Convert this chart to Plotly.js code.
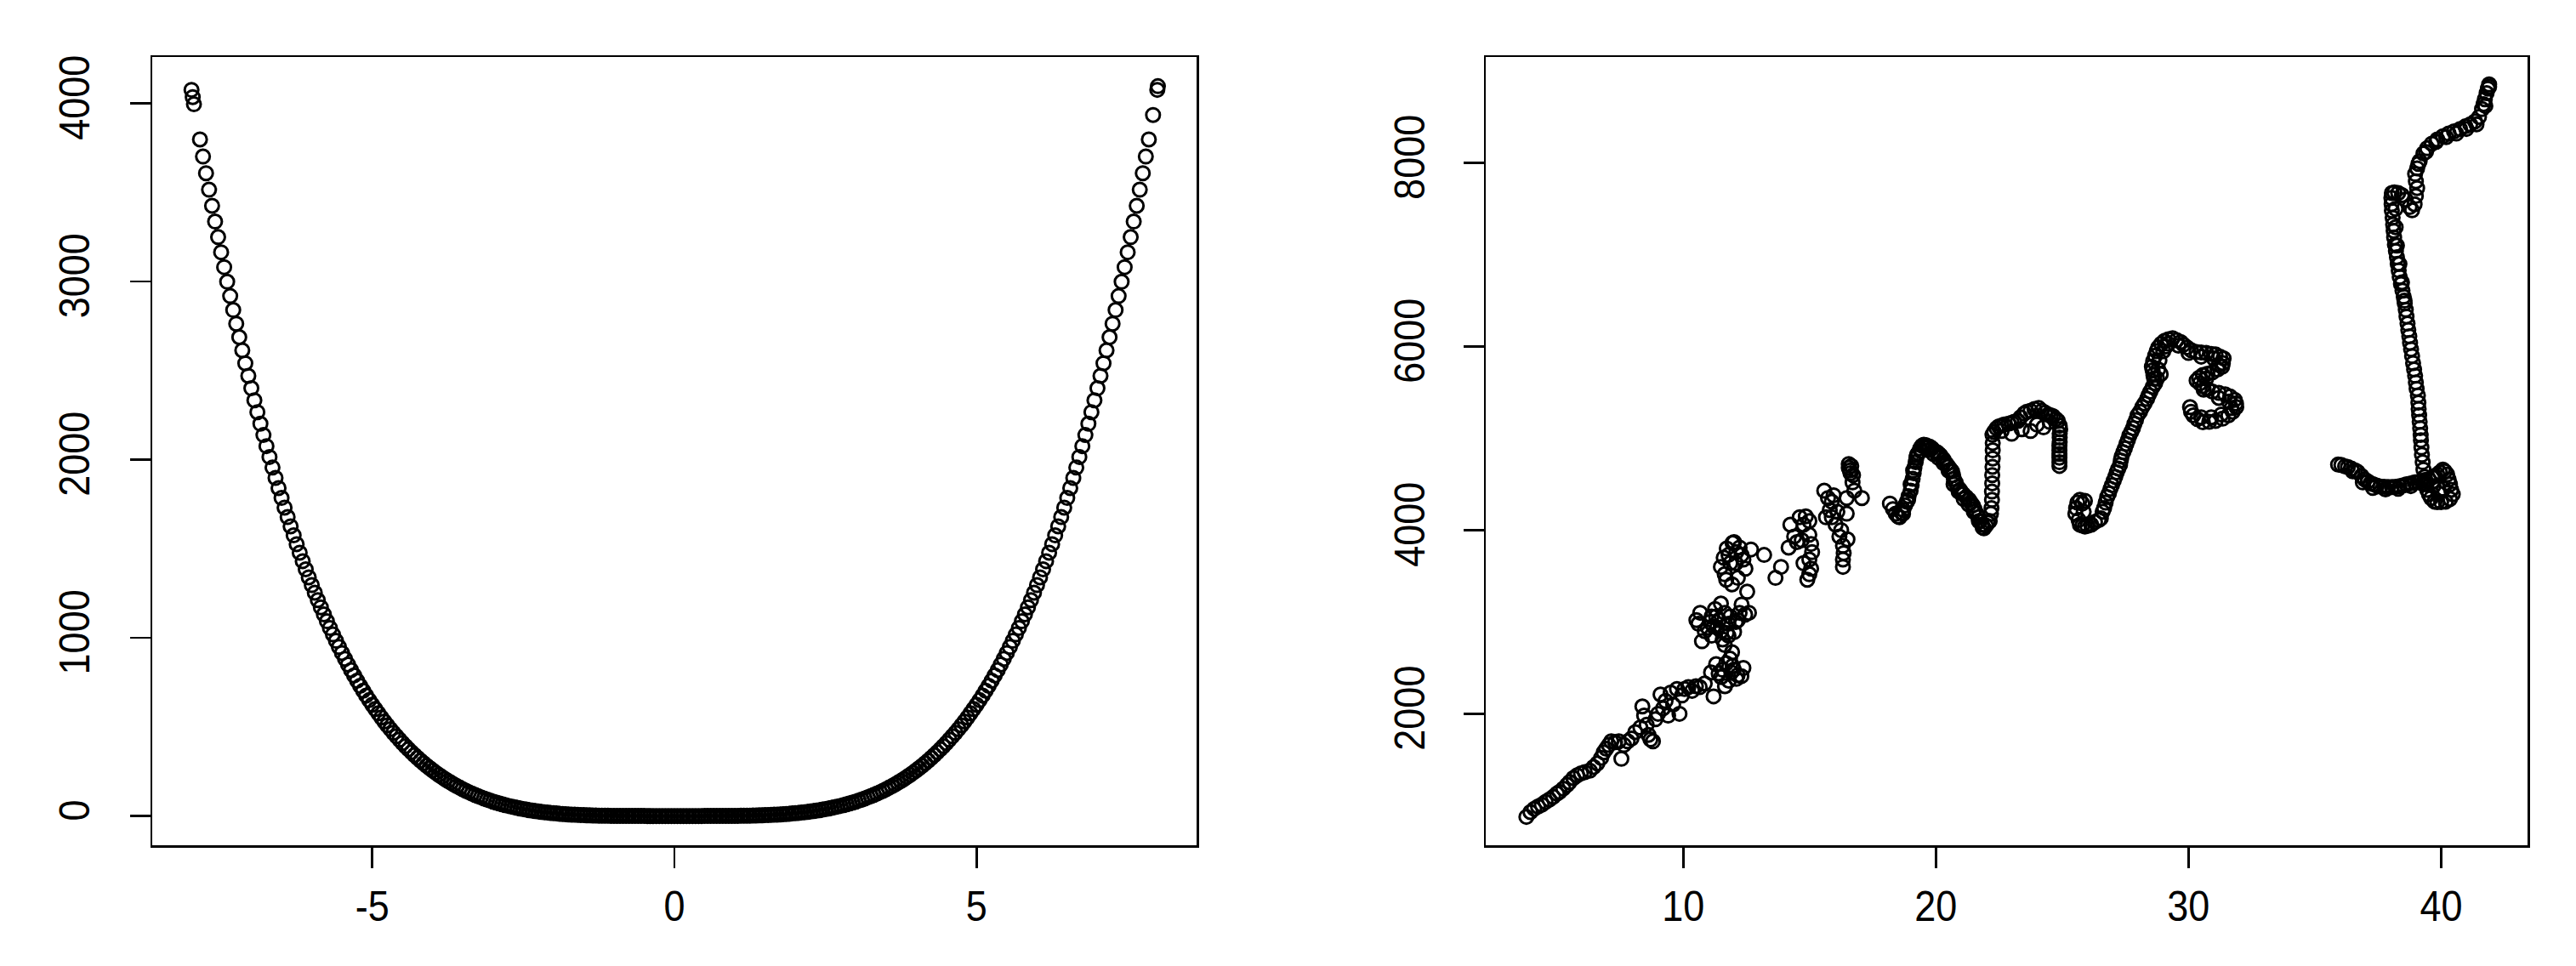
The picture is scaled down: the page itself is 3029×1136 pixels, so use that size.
<!DOCTYPE html>
<html>
<head>
<meta charset="utf-8">
<script src="https://cdn.plot.ly/plotly-3.0.1.min.js"></script>
<style>
  html, body { margin: 0; padding: 0; background: #fff; }
  #chart { width: 3029px; height: 1136px; }
</style>
</head>
<body>
<div id="chart"></div>
<script>
// ---------- Left panel: U-shaped cloud ----------
const leftXNeg = [-7.99,-7.97,-7.95,-7.85,-7.8,-7.75,-7.7,-7.65,-7.6,-7.55,-7.5,-7.45,-7.4,-7.35,-7.3,-7.25,-7.2,-7.15,-7.1,-7.05,-7.0,-6.95,-6.9,-6.85,-6.8,-6.75,-6.7,-6.65,-6.6,-6.55,-6.5,-6.45,-6.4,-6.35,-6.3,-6.25,-6.2,-6.15,-6.1,-6.05,-6.0,-5.95,-5.9,-5.85,-5.8,-5.75,-5.7,-5.65,-5.6,-5.55,-5.5,-5.45,-5.4,-5.35,-5.3,-5.25,-5.2,-5.15,-5.1,-5.05,-5.0,-4.95,-4.9,-4.85,-4.8,-4.75,-4.7,-4.65,-4.6,-4.55,-4.5,-4.45,-4.4,-4.35,-4.3,-4.25,-4.2,-4.15,-4.1,-4.05,-4.0,-3.95,-3.9,-3.85,-3.8,-3.75,-3.7,-3.65,-3.6,-3.55,-3.5,-3.45,-3.4,-3.35,-3.3,-3.25,-3.2,-3.15,-3.1,-3.05,-3.0,-2.95,-2.9,-2.85,-2.8,-2.75,-2.7,-2.65,-2.6,-2.55,-2.5,-2.45,-2.4,-2.35,-2.3,-2.25,-2.2,-2.15,-2.1,-2.05,-2.0,-1.95,-1.9,-1.85,-1.8,-1.75,-1.7,-1.65,-1.6,-1.55,-1.5,-1.45,-1.4,-1.35,-1.3,-1.25,-1.2,-1.15,-1.1,-1.05,-1.0,-0.95,-0.9,-0.85,-0.8,-0.75,-0.7,-0.65,-0.6,-0.55,-0.5,-0.45,-0.4,-0.35,-0.3,-0.25,-0.2,-0.15,-0.1,-0.05,0];
const leftYNeg = [4075.6,4034.9,3994.6,3797.3,3701.5,3607.5,3515.3,3424.9,3336.2,3249.3,3164.1,3080.5,2998.7,2918.4,2839.8,2762.8,2687.4,2613.5,2541.2,2470.3,2401,2333.1,2266.7,2201.7,2138.1,2075.9,2015.1,1955.6,1897.5,1840.6,1785.1,1730.8,1677.7,1626.0,1575.3,1525.9,1477.6,1430.5,1384.6,1339.7,1296,1253.3,1211.7,1171.2,1131.6,1093.1,1055.6,1019.0,983.4,948.8,915.1,882.2,850.3,819.2,789.0,759.7,731.2,703.4,676.5,650.4,625,600.4,576.5,553.3,530.8,509.1,488.0,467.5,447.7,428.6,410.1,392.1,374.8,358.1,341.9,326.3,311.2,296.6,282.6,269.0,256,243.4,231.3,219.7,208.5,197.8,187.4,177.5,168.0,158.8,150.1,141.7,133.6,125.9,118.6,111.6,104.9,98.5,92.4,86.5,81,75.7,70.7,66.0,61.5,57.2,53.1,49.3,45.7,42.3,39.1,36.0,33.2,30.5,28.0,25.6,23.4,21.4,19.4,17.7,16,14.5,13.0,11.7,10.5,9.4,8.4,7.4,6.6,5.8,5.1,4.4,3.8,3.3,2.9,2.4,2.1,1.7,1.5,1.2,1,0.8,0.7,0.5,0.4,0.3,0.2,0.2,0.1,0.1,0.1,0,0,0,0,0,0,0,0,0,0];
const leftXPos = [8.0,7.99,7.92,7.85,7.8,7.75,7.7,7.65,7.6,7.55,7.5,7.45,7.4,7.35,7.3,7.25,7.2,7.15,7.1,7.05,7.0,6.95,6.9,6.85,6.8,6.75,6.7,6.65,6.6,6.55,6.5,6.45,6.4,6.35,6.3,6.25,6.2,6.15,6.1,6.05,6.0,5.95,5.9,5.85,5.8,5.75,5.7,5.65,5.6,5.55,5.5,5.45,5.4,5.35,5.3,5.25,5.2,5.15,5.1,5.05,5.0,4.95,4.9,4.85,4.8,4.75,4.7,4.65,4.6,4.55,4.5,4.45,4.4,4.35,4.3,4.25,4.2,4.15,4.1,4.05,4.0,3.95,3.9,3.85,3.8,3.75,3.7,3.65,3.6,3.55,3.5,3.45,3.4,3.35,3.3,3.25,3.2,3.15,3.1,3.05,3.0,2.95,2.9,2.85,2.8,2.75,2.7,2.65,2.6,2.55,2.5,2.45,2.4,2.35,2.3,2.25,2.2,2.15,2.1,2.05,2.0,1.95,1.9,1.85,1.8,1.75,1.7,1.65,1.6,1.55,1.5,1.45,1.4,1.35,1.3,1.25,1.2,1.15,1.1,1.05,1.0,0.95,0.9,0.85,0.8,0.75,0.7,0.65,0.6,0.55,0.5,0.45,0.4,0.35,0.3,0.25,0.2,0.15,0.1,0.05];
const leftYPos = [4096,4075.6,3934.6,3797.3,3701.5,3607.5,3515.3,3424.9,3336.2,3249.3,3164.1,3080.5,2998.7,2918.4,2839.8,2762.8,2687.4,2613.5,2541.2,2470.3,2401,2333.1,2266.7,2201.7,2138.1,2075.9,2015.1,1955.6,1897.5,1840.6,1785.1,1730.8,1677.7,1626.0,1575.3,1525.9,1477.6,1430.5,1384.6,1339.7,1296,1253.3,1211.7,1171.2,1131.6,1093.1,1055.6,1019.0,983.4,948.8,915.1,882.2,850.3,819.2,789.0,759.7,731.2,703.4,676.5,650.4,625,600.4,576.5,553.3,530.8,509.1,488.0,467.5,447.7,428.6,410.1,392.1,374.8,358.1,341.9,326.3,311.2,296.6,282.6,269.0,256,243.4,231.3,219.7,208.5,197.8,187.4,177.5,168.0,158.8,150.1,141.7,133.6,125.9,118.6,111.6,104.9,98.5,92.4,86.5,81,75.7,70.7,66.0,61.5,57.2,53.1,49.3,45.7,42.3,39.1,36.0,33.2,30.5,28.0,25.6,23.4,21.4,19.4,17.7,16,14.5,13.0,11.7,10.5,9.4,8.4,7.4,6.6,5.8,5.1,4.4,3.8,3.3,2.9,2.4,2.1,1.7,1.5,1.2,1,0.8,0.7,0.5,0.4,0.3,0.2,0.2,0.1,0.1,0.1,0,0,0,0,0,0,0,0,0];

// ---------- Right panel: wandering path, by stretch ----------
const segAX = [3.79,3.95,4.1,4.25,4.4,4.55,4.7,4.85,5.0,5.1,5.25,5.4,5.5,5.65,5.8,5.95,6.1,6.3,6.45,6.6,6.75,6.85,6.95,7.05,7.15,7.3,7.45,7.55,7.65,7.8,7.95,8.1,8.3,8.38,8.45,8.55,8.62,8.7,8.8,8.9,9.0,9.1,9.2,9.3,9.4,9.5,9.6,9.75,9.85,9.95,10.05,10.2,10.35,10.5,10.65,10.85,11.2,11.1,11.3,11.4,11.55,11.65,11.8,11.9,12.0,12.15,12.3,12.38,11.7,11.85,11.5,12.1,11.95];
const segAY = [877,930,965,990,1010,1040,1065,1095,1130,1150,1185,1225,1255,1300,1330,1350,1365,1380,1420,1460,1520,1580,1620,1660,1700,1690,1700,1510,1660,1700,1730,1800,1850,2080,1980,1880,1770,1720,1700,1940,2000,2210,2060,2140,1980,2230,2100,2270,2000,2200,2270,2290,2250,2300,2290,2330,2190,2450,2540,2440,2480,2300,2360,2450,2480,2420,2410,2500,2550,2600,2400,2380,2520];

const segBX = [10.52,10.6,10.67,10.74,10.85,10.97,11.05,11.12,11.12,11.2,11.26,11.34,11.41,11.49,11.56,11.64,11.64,11.72,11.79,11.79,11.86,11.93,12.01,12.08,12.16,12.23,12.31,12.45,12.6,12.53,11.3,11.5];
const segBY = [3020,2980,3100,2790,2900,2940,3000,3060,2850,2950,3140,2940,3020,3200,2810,3100,2750,2880,2980,2850,3060,2670,2890,3000,3020,3100,3190,3080,3100,3330,3060,2900];

const segCX = [11.49,11.6,11.64,11.72,11.79,11.86,11.93,11.95,12.01,12.08,12.1,12.16,12.23,12.31,12.38,12.46,11.7,12.68,13.2,13.65,13.87];
const segCY = [3600,3700,3520,3800,3730,3640,3410,3860,3870,3640,3760,3480,3810,3730,3680,3580,3460,3790,3730,3480,3600];

const segDX = [14.17,14.24,14.39,14.5,14.61,14.69,14.76,14.76,14.85,14.91,14.99,14.99,14.99,14.99,15.06,15.06,15.1,15.58,15.65,15.73,15.8,15.88,15.88,15.95,16.03,16.1,16.18,16.25,16.32,16.32,16.32,16.35,16.47,16.47,16.55,16.55,16.6,16.62,16.65,16.7,16.72,16.77,17.07,16.5];
const segDY = [3810,4060,3930,3870,4140,3890,4060,3640,4150,3460,4100,3950,3680,3520,3850,3580,3760,4430,4140,4350,4220,4310,4140,4380,4060,4200,3930,4000,3830,3680,3600,3750,4180,4350,4720,4680,4650,4620,4700,4520,4600,4430,4350,3900];

const segEX = [18.18,18.3,18.41,18.5,18.56,18.65,18.71,18.78,18.85,18.92,19.0,19.04,19.08,19.12,19.15,19.2,19.23,19.3,19.38,19.45,19.52,19.6,19.68,19.75,19.85,19.95,20.04,20.12,20.19,20.3,20.42,20.5,20.58,20.64,20.68,20.71,20.78,20.86,20.95,21.02,21.09,21.2,21.31,21.38,21.46,21.53,21.61,21.68,21.76,21.83,21.9,21.98,22.06,22.13,22.18,22.2,22.22,22.22,22.23,22.23,22.24,22.25,22.25,22.25,18.7,18.9,19.0,19.1,19.25,19.4,19.7,19.9,20.1,20.3,20.5,20.7,20.9,21.1,21.3,21.5,21.7,21.85];
const segEY = [4290,4230,4180,4150,4140,4190,4220,4270,4310,4370,4430,4490,4560,4620,4680,4740,4790,4840,4890,4920,4930,4925,4915,4910,4890,4860,4850,4830,4810,4770,4720,4690,4660,4640,4600,4560,4520,4470,4440,4410,4390,4360,4330,4300,4270,4230,4180,4140,4100,4060,4020,4050,4080,4100,4180,4240,4330,4420,4510,4600,4690,4780,4870,4950,4180,4330,4500,4650,4820,4860,4870,4830,4790,4730,4650,4500,4420,4340,4280,4200,4100,4030];

const segFX = [22.24,22.3,22.4,22.49,22.6,22.7,22.87,23.0,23.1,23.25,23.35,23.5,23.6,23.75,23.9,24.07,24.2,24.32,24.45,24.55,24.64,24.75,24.83,24.9,24.92,24.9,24.9,24.9,24.89,24.89,24.89,24.89,24.89,24.89,22.6,23.0,23.4,23.75,24.0,24.26,24.5];
const segFY = [5040,5070,5110,5130,5140,5150,5160,5170,5180,5190,5230,5270,5290,5300,5320,5330,5300,5280,5260,5250,5240,5210,5190,5140,5100,5050,5010,4960,4920,4870,4830,4790,4740,4700,5080,5050,5100,5080,5150,5120,5180];

const segGX = [25.55,25.52,25.6,25.7,25.8,25.65,25.7,25.8,25.9,26.0,26.15,26.3,26.45,26.53,25.85,25.9,26.6,26.66,26.72,26.78,26.85,26.91,26.97,27.04,27.1,27.16,27.22,27.29,27.32,27.35,27.42,27.48,27.54,27.6,27.66,27.73,27.8,27.86,27.92,27.98,28.08,28.17,28.26,28.36,28.42,28.49,28.58,28.68,28.64,28.61,28.58,28.55,28.6,28.68,28.74,28.8,28.92,29.05,29.2,29.37,29.53,29.69,29.8,29.94,30.1,30.32,30.5,30.7,30.9,31.07,31.25,31.39,31.36,31.33,31.15,30.95,30.75,30.57,30.42,30.32,30.45,30.57,30.75,30.95,31.2,31.45,31.65,31.83,31.88,31.89,31.75,31.58,31.35,31.07,30.82,30.57,30.35,30.19,30.1,30.06,28.75,28.8,28.85,29.0,29.1,28.9,29.2,29.6,30.0,30.5,31.0,31.2,30.7,30.6,31.2,31.6,31.7,31.3,30.9,30.5];
const segGY = [4240,4180,4300,4330,4290,4110,4060,4050,4040,4045,4060,4090,4110,4130,4200,4320,4200,4240,4300,4360,4400,4450,4490,4540,4580,4630,4670,4710,4760,4800,4850,4890,4940,4980,5030,5070,5110,5160,5200,5250,5290,5340,5380,5430,5470,5510,5560,5600,5650,5690,5740,5780,5840,5900,5950,5990,6030,6060,6080,6090,6070,6050,6020,5990,5960,5940,5935,5930,5920,5915,5890,5870,5820,5780,5750,5720,5705,5690,5660,5630,5600,5570,5540,5510,5495,5480,5455,5420,5380,5340,5290,5250,5215,5190,5180,5175,5210,5250,5290,5340,5650,5750,5850,5950,6000,5700,6030,6010,5930,5890,5870,5800,5650,5530,5440,5400,5330,5260,5230,5230];

const segHX = [35.92,36.05,36.2,36.31,36.45,36.6,36.7,36.85,36.97,37.1,37.2,37.31,37.45,37.6,37.75,37.9,38.05,38.19,38.35,38.5,38.63,38.8,38.95,39.08,39.2,39.35,39.52,39.65,39.75,39.85,39.95,40.07,40.15,40.24,40.3,40.35,40.4,40.46,40.35,40.18,40.0,39.85,39.74,39.6,39.52,39.45,39.41,39.35,39.3,39.9,40.1,39.7,39.27,39.24,39.22,39.2,39.19,39.17,39.15,39.13,39.11,39.1,39.08,39.03,39.0,38.97,38.93,38.89,38.85,38.81,38.77,38.74,38.7,38.67,38.63,38.6,38.56,38.52,38.47,38.41,38.36,38.32,38.28,38.25,38.21,38.17,38.14,38.12,38.1,38.08,38.05,38.04,38.03,38.05,38.15,38.3,38.45,38.6,38.75,38.85,38.95,39.0,39.05,39.0,38.97,39.05,39.15,39.3,39.45,39.63,39.85,40.07,40.3,40.51,40.75,40.96,41.15,41.34,41.5,41.62,41.68,41.73,41.8,41.85,41.9,41.9,36.5,36.9,37.3,37.8,38.3,38.8,39.3,39.1,39.4,39.8,40.2,40.6,41.0,41.4,41.75,38.2,38.25,38.35,38.45,38.55,38.2];
const segHY = [4714,4710,4695,4687,4670,4650,4633,4590,4553,4530,4510,4499,4485,4475,4472,4470,4470,4472,4478,4488,4499,4510,4520,4526,4535,4545,4553,4575,4590,4606,4630,4660,4640,4606,4550,4499,4440,4391,4340,4311,4305,4305,4311,4350,4391,4440,4499,4580,4660,4400,4450,4480,4740,4821,4900,4980,5037,5110,5180,5252,5320,5390,5467,5540,5610,5682,5750,5820,5897,5970,6040,6112,6180,6250,6327,6400,6470,6543,6610,6680,6758,6830,6900,6973,7040,7110,7188,7260,7330,7403,7480,7550,7618,7672,7680,7672,7650,7600,7520,7484,7550,7640,7726,7800,7880,7941,8020,8102,8160,8210,8255,8290,8320,8344,8370,8398,8420,8452,8500,8586,8640,8694,8760,8810,8855,8830,4640,4520,4460,4445,4450,4480,4500,7990,8120,8230,8280,8320,8370,8420,8620,7300,7100,6900,6700,6500,7500];

// ---------- Axis ticks ----------
const leftXTicks = [-5, 0, 5];
const leftYTicks = [0, 1000, 2000, 3000, 4000];
const rightXTicks = [10, 20, 30, 40];
const rightYTicks = [2000, 4000, 6000, 8000];

const marker = { symbol: 'circle-open', size: 16, color: '#000', line: { width: 3, color: '#000' } };

const traces = [
  { x: leftXNeg, y: leftYNeg, xaxis: 'x', yaxis: 'y', type: 'scatter', mode: 'markers', marker: marker, hoverinfo: 'skip' },
  { x: leftXPos, y: leftYPos, xaxis: 'x', yaxis: 'y', type: 'scatter', mode: 'markers', marker: marker, hoverinfo: 'skip' },
  {
    x: [].concat(segAX, segBX, segCX, segDX, segEX, segFX, segGX, segHX),
    y: [].concat(segAY, segBY, segCY, segDY, segEY, segFY, segGY, segHY),
    xaxis: 'x2', yaxis: 'y2', type: 'scatter', mode: 'markers', marker: marker, hoverinfo: 'skip'
  }
];

const tickFont = { family: '"Liberation Sans", Arial, sans-serif', size: 45, color: '#000' };
const W = 3029, H = 1136;
const yDom = [1 - 994 / H, 1 - 67 / H];

function axisBase() {
  return {
    showgrid: false, zeroline: false, showline: true, linecolor: '#000', linewidth: 2.5,
    mirror: true, ticks: 'outside', ticklen: 24, tickwidth: 2.5, tickcolor: '#000',
    tickfont: tickFont, tickmode: 'array', fixedrange: true
  };
}

const layout = {
  width: W, height: H,
  margin: { l: 0, r: 0, t: 0, b: 0 },
  paper_bgcolor: '#fff', plot_bgcolor: '#fff',
  showlegend: false,
  xaxis: Object.assign(axisBase(), { domain: [179 / W, 1407 / W], range: [-8.64, 8.64], tickvals: leftXTicks, ticktext: leftXTicks.map(String), anchor: 'y', ticklabelstandoff: 9 }),
  yaxis: Object.assign(axisBase(), { domain: yDom, range: [-164, 4260], tickvals: leftYTicks, ticktext: leftYTicks.map(String), tickangle: -90, anchor: 'x', ticklabelstandoff: 30 }),
  xaxis2: Object.assign(axisBase(), { domain: [1747 / W, 2972 / W], range: [2.18, 43.42], tickvals: rightXTicks, ticktext: rightXTicks.map(String), anchor: 'y2', ticklabelstandoff: 9 }),
  yaxis2: Object.assign(axisBase(), { domain: yDom, range: [568, 9154], tickvals: rightYTicks, ticktext: rightYTicks.map(String), tickangle: -90, anchor: 'x2', ticklabelstandoff: 28 })
};

Plotly.newPlot('chart', traces, layout, { staticPlot: true, displayModeBar: false }).then(function () {
  // The reference's tick digits are drawn taller than wide; stretch each label's glyph height about its own anchor.
  document.querySelectorAll('#chart .xtick text, #chart .ytick text, #chart .x2tick text, #chart .y2tick text').forEach(function (t) {
    const x = parseFloat(t.getAttribute('x')) || 0;
    const y = parseFloat(t.getAttribute('y')) || 0;
    const tr = t.getAttribute('transform') || '';
    t.setAttribute('transform', tr + ' translate(' + x + ',' + y + ') scale(1,1.12) translate(' + (-x) + ',' + (-y) + ')');
  });
});
</script>
</body>
</html>
